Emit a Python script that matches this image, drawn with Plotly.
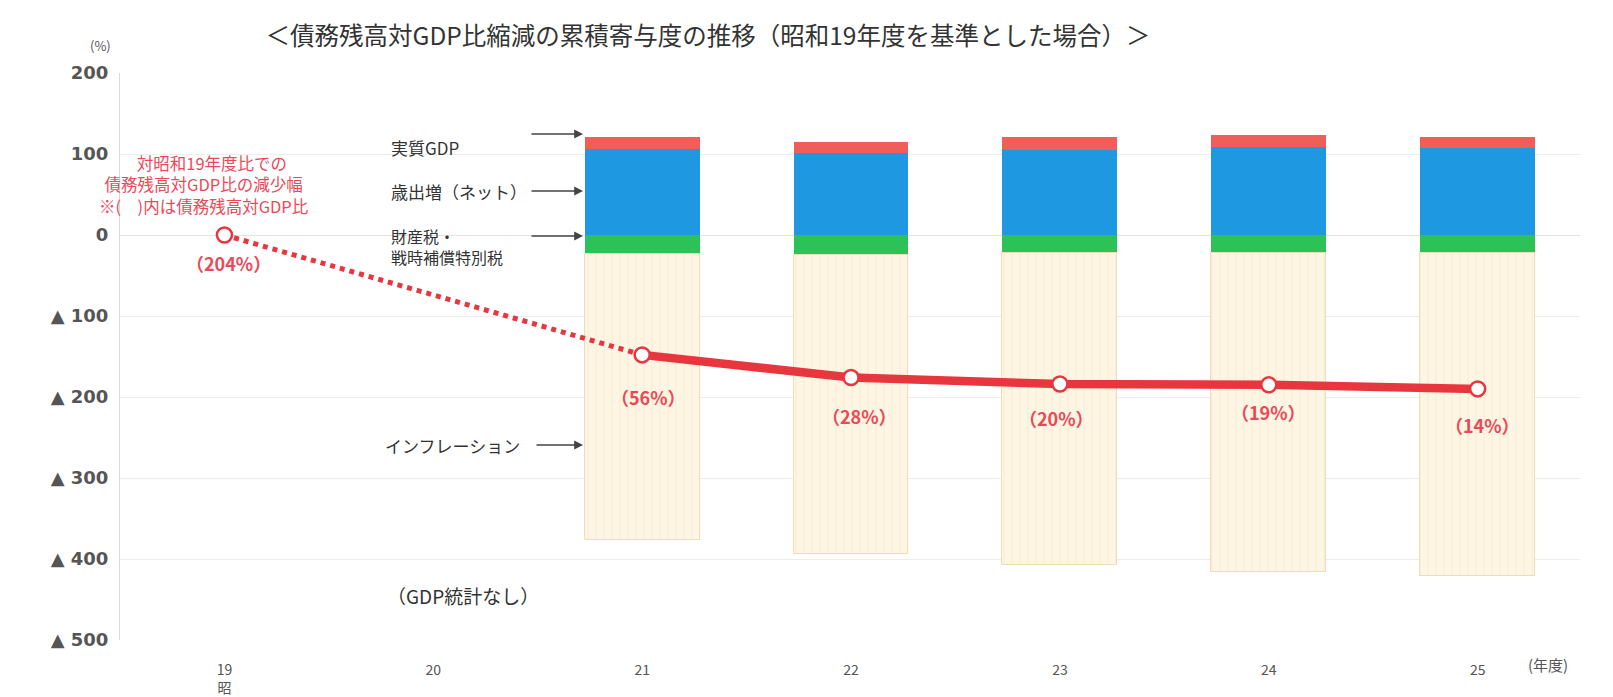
import plotly.graph_objects as go

# ---------------- data ----------------
bar_years = [21, 22, 23, 24, 25]
real_gdp = [15, 14, 16, 15, 14]               # 実質GDP
spending_net = [106, 101, 105, 109, 107]      # 歳出増（ネット）
property_tax = [-23, -25, -22, -22, -22]      # 財産税・戦時補償特別税
inflation = [-353, -369, -385, -394, -399]    # インフレーション

line_years = [19, 21, 22, 23, 24, 25]
debt_ratio_reduction = [0, -148, -176, -184, -185, -190]
debt_ratio_labels = ["（204%）", "（56%）", "（28%）", "（20%）", "（19%）", "（14%）"]

x_tick_vals = [19, 20, 21, 22, 23, 24, 25]
x_tick_text = ["19<br>昭", "20", "21", "22", "23", "24", "25"]
y_tick_vals = [200, 100, 0, -100, -200, -300, -400, -500]
y_tick_text = ["200", "100", "0", "▲ 100", "▲ 200", "▲ 300", "▲ 400", "▲ 500"]

# ---------------- layout constants ----------------
W, H = 1613, 697
ML, MR, MT, MB = 120, 33, 73, 57
PW, PH = W - ML - MR, H - MT - MB
FONT = "Noto Sans CJK JP"
RED = "#E8363F"
RED_TEXT = "#EC4858"
DARK = "#333333"

def px(x):
    return (x - ML) / PW

def py(y):
    return (H - MB - y) / PH

BAR_W = 0.55
label_dx = [4, 6, 8, -3, 0, 5]
label_dy = [28, 42, 38, 34, 27, 36]

fig = go.Figure()

fig.add_trace(go.Bar(x=bar_years, y=spending_net, width=BAR_W, name="歳出増（ネット）",
                     marker=dict(color="#1E98E0", line=dict(width=0))))
fig.add_trace(go.Bar(x=bar_years, y=property_tax, width=BAR_W, name="財産税・戦時補償特別税",
                     marker=dict(color="#2CC257", line=dict(width=0))))
fig.add_trace(go.Bar(x=bar_years, y=real_gdp, width=BAR_W, name="実質GDP",
                     marker=dict(color="#F05E5A", line=dict(width=0))))
fig.add_trace(go.Bar(x=bar_years, y=inflation, width=BAR_W, name="インフレーション",
                     marker=dict(color="#FDF6E4",
                                 pattern=dict(shape="|", fgcolor="#F3E4C4", size=8, solidity=0.15),
                                 line=dict(color="#EFDCB2", width=1))))

# dotted part (no GDP statistics for 20)
fig.add_trace(go.Scatter(x=line_years[:2], y=debt_ratio_reduction[:2], mode="lines",
                         line=dict(color=RED, width=5, dash="dot"), showlegend=False))
fig.add_trace(go.Scatter(x=line_years[1:], y=debt_ratio_reduction[1:], mode="lines",
                         line=dict(color=RED, width=8.5), showlegend=False))
fig.add_trace(go.Scatter(x=line_years, y=debt_ratio_reduction, mode="markers",
                         marker=dict(size=15, color="white", line=dict(color=RED, width=2.5)),
                         showlegend=False))

ann = []
for xv, yv, t, dx, dy in zip(line_years, debt_ratio_reduction, debt_ratio_labels, label_dx, label_dy):
    ann.append(dict(x=xv, y=yv, xref="x", yref="y", text=t, showarrow=False,
                    xshift=dx, yshift=-dy,
                    font=dict(family=FONT, size=18, color=RED_TEXT, weight="bold")))

# red explanatory text (one block, three lines)
ann.append(dict(x=px(203), y=py(184), xref="paper", yref="paper",
                text="　対昭和19年度比での<br>債務残高対GDP比の減少幅<br>※(　)内は債務残高対GDP比",
                showarrow=False, xanchor="center", yanchor="middle", align="center",
                font=dict(family=FONT, size=16.5, color=RED_TEXT)))

# dark component labels
ann.append(dict(x=px(389), y=py(147), xref="paper", yref="paper", text="実質GDP",
                showarrow=False, xanchor="left", yanchor="middle",
                font=dict(family=FONT, size=17, color=DARK)))
ann.append(dict(x=px(389), y=py(191), xref="paper", yref="paper", text="歳出増（ネット）",
                showarrow=False, xanchor="left", yanchor="middle",
                font=dict(family=FONT, size=17, color=DARK)))
ann.append(dict(x=px(389), y=py(246), xref="paper", yref="paper", text="財産税・<br>戦時補償特別税",
                showarrow=False, xanchor="left", yanchor="middle", align="left",
                font=dict(family=FONT, size=16, color=DARK)))
ann.append(dict(x=px(522), y=py(445), xref="paper", yref="paper", text="インフレーション",
                showarrow=False, xanchor="right", yanchor="middle",
                font=dict(family=FONT, size=17, color=DARK)))

# arrows to the first bar
for ty, tail in [(134, 53), (191, 53), (236, 53), (445, 48)]:
    ann.append(dict(x=px(583), y=py(ty), xref="paper", yref="paper", text="", showarrow=True,
                    ax=-tail, ay=0, arrowhead=2, arrowsize=1.1, arrowwidth=1.6, arrowcolor="#444"))

ann.append(dict(x=px(463), y=py(595), xref="paper", yref="paper", text="（GDP統計なし）",
                showarrow=False, xanchor="center", yanchor="middle",
                font=dict(family=FONT, size=19, color=DARK)))
ann.append(dict(x=px(100), y=py(46), xref="paper", yref="paper", text="(%)",
                showarrow=False, xanchor="center", yanchor="middle",
                font=dict(family=FONT, size=13, color="#555")))
ann.append(dict(x=px(1548), y=py(664), xref="paper", yref="paper", text="(年度)",
                showarrow=False, xanchor="center", yanchor="middle",
                font=dict(family=FONT, size=15, color="#555")))

fig.update_layout(
    width=W, height=H,
    margin=dict(l=ML, r=MR, t=MT, b=MB, pad=0, autoexpand=False),
    paper_bgcolor="white", plot_bgcolor="white",
    barmode="relative", bargap=0, showlegend=False,
    title=dict(text="＜債務残高対GDP比縮減の累積寄与度の推移（昭和19年度を基準とした場合）＞",
               x=708 / W, xanchor="center", y=1 - 36 / H, yanchor="middle",
               font=dict(family=FONT, size=24.5, color=DARK)),
    annotations=ann,
    xaxis=dict(range=[18.5, 25.49], tickvals=x_tick_vals, ticktext=x_tick_text,
               showgrid=False, zeroline=False, showline=False, ticks="",
               ticklabelstandoff=20, automargin=False,
               tickfont=dict(family=FONT, size=14, color="#555")),
    yaxis=dict(range=[-500, 200], tickvals=y_tick_vals, ticktext=y_tick_text,
               showgrid=True, gridcolor="#ECECEC", gridwidth=1,
               zeroline=True, zerolinecolor="#E2E2E2", zerolinewidth=1,
               showline=True, linecolor="#D9D9D9", linewidth=1, ticks="",
               ticklabelstandoff=7, automargin=False,
               tickfont=dict(family="DejaVu Sans", size=18, color="#555", weight="bold")),
)

fig.write_html("out.html")
